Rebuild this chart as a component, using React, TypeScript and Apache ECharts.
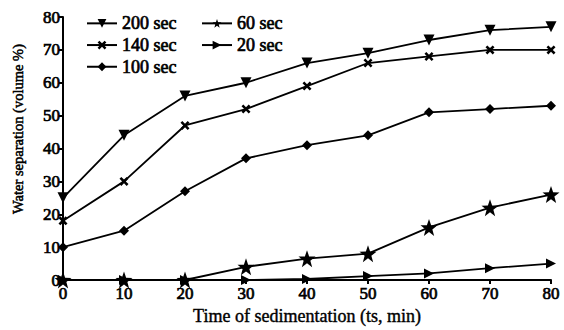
import React, { useEffect, useRef } from "react";
import * as echarts from "echarts";

const times = [0, 10, 20, 30, 40, 50, 60, 70, 80];
const s200 = [25, 44, 56, 60, 66, 69, 73, 76, 77];
const s140 = [18, 30, 47, 52, 59, 66, 68, 70, 70];
const s100 = [10, 15, 27, 37, 41, 44, 51, 52, 53];
const s60 = [0, 0, 0, 4, 6.5, 8, 16, 22, 26];
const s20 = [0, 0, 0, 0, 0.3, 1.2, 2, 3.6, 5];
const seriesNames = ["200 sec", "140 sec", "100 sec", "60 sec", "20 sec"];
const xTitle = "Time of sedimentation (ts, min)";
const yTitle = "Water separation (volume %)";

const FONT = "Liberation Serif";
const X_SYM = "path://M2,0 L5,3 L8,0 L10,2 L7,5 L10,8 L8,10 L5,7 L2,10 L0,8 L3,5 L0,2 Z";
const STAR_SYM = "path://M50,0 L62,34 L98,35 L69,57 L79,92 L50,71 L21,92 L31,57 L2,35 L38,34 Z";

export default function App() {
  const ref = useRef<HTMLDivElement>(null);
  useEffect(() => {
    if (!ref.current) return;
    const chart = echarts.init(ref.current, null, { renderer: "svg" });
    const mk = (name: string, vals: number[], symbol: string, size: number, rotate = 0) => ({
      name,
      type: "line",
      data: times.map((t, i) => [t, vals[i]]),
      symbol,
      symbolSize: size,
      symbolRotate: rotate,
      showAllSymbol: true,
      lineStyle: { color: "#000", width: 1.8 },
      itemStyle: { color: "#000", borderWidth: 0 },
    });
    const boldish = { textBorderColor: "#000", textBorderWidth: 0.7 };
    const legendText = { fontFamily: FONT, fontSize: 18, color: "#000", ...boldish };
    chart.setOption({
      animation: false,
      backgroundColor: "#fff",
      grid: { left: 63, right: 13, top: 17, bottom: 50, containLabel: false, outerBoundsMode: "none" },
      legend: [
        {
          data: seriesNames.slice(0, 3),
          orient: "vertical",
          left: 81,
          top: 9,
          itemWidth: 30,
          itemHeight: 11,
          itemGap: 3,
          textStyle: legendText,
        },
        {
          data: seriesNames.slice(3),
          orient: "vertical",
          left: 196,
          top: 9,
          itemWidth: 30,
          itemHeight: 11,
          itemGap: 3,
          textStyle: legendText,
        },
      ],
      graphic: [
        {
          type: "text",
          x: 18,
          y: 129,
          rotation: Math.PI / 2,
          style: {
            text: yTitle,
            fontFamily: FONT,
            fontSize: 14.5,
            fill: "#000",
            stroke: "#000",
            lineWidth: 0.5,
            align: "center",
            verticalAlign: "middle",
          },
        },
      ],
      xAxis: {
        type: "value",
        min: 0,
        max: 80,
        interval: 10,
        name: xTitle,
        nameLocation: "middle",
        nameGap: 27,
        nameTextStyle: { fontFamily: FONT, fontSize: 18, color: "#000", textBorderColor: "#000", textBorderWidth: 0.4 },
        axisLine: { lineStyle: { color: "#000", width: 2 } },
        axisTick: { lineStyle: { color: "#000", width: 2 }, length: 4 },
        axisLabel: { fontFamily: FONT, fontSize: 17, color: "#000", margin: 5, ...boldish },
        splitLine: { show: false },
      },
      yAxis: {
        type: "value",
        min: 0,
        max: 80,
        interval: 10,
        axisLine: { show: true, lineStyle: { color: "#000", width: 2 } },
        axisTick: { show: true, lineStyle: { color: "#000", width: 2 }, length: 4 },
        axisLabel: { fontFamily: FONT, fontSize: 17, color: "#000", margin: 3, ...boldish },
        splitLine: { show: false },
      },
      series: [
        mk(seriesNames[0], s200, "triangle", 11, 180),
        mk(seriesNames[1], s140, X_SYM, 9),
        mk(seriesNames[2], s100, "diamond", 10),
        mk(seriesNames[3], s60, STAR_SYM, 17),
        mk(seriesNames[4], s20, "triangle", 10, -90),
      ],
    });
    return () => chart.dispose();
  }, []);
  return (
    <div
      ref={ref}
      style={{ position: "absolute", left: 0, top: 0, width: 564, height: 330 }}
    />
  );
}
